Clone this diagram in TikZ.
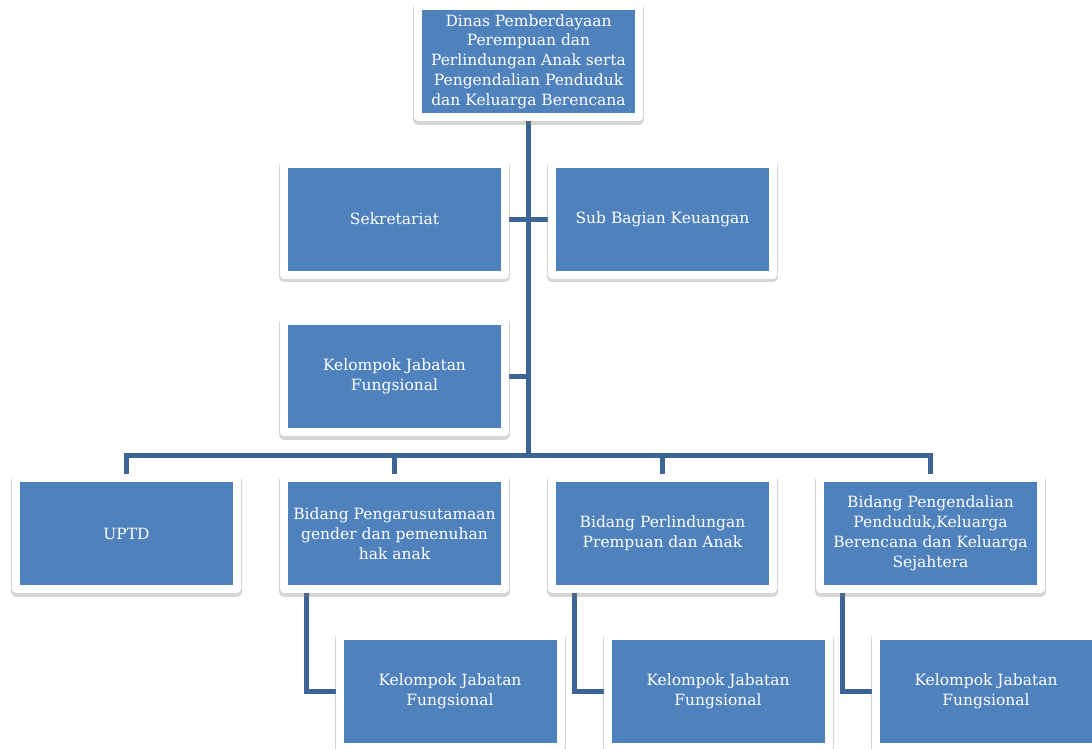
\documentclass[tikz,border=0pt]{standalone}
\usepackage{fontspec}
\setmainfont{DejaVu Serif}
\definecolor{unitblue}{RGB}{79, 129, 189}
\definecolor{linkblue}{RGB}{61, 100, 150}
\usepackage{tikz}
\usetikzlibrary{shadows, backgrounds, positioning, calc}

\begin{document}
\begin{tikzpicture}[x=1pt, y=-1pt,
  unitbox/.style={fill=unitblue, draw=white, line width=8pt, line join=round,
    minimum width=221pt, minimum height=111pt, inner sep=0pt, text=white, align=center,
    font=\fontsize{15.5}{19.8}\selectfont,
    drop shadow={shadow xshift=0pt, shadow yshift=-2.5pt, opacity=0.3,
      fill=black!55, draw=black!55, line width=10pt}},
  link/.style={draw=linkblue, line width=5pt}]
  \useasboundingbox (0,0) rectangle (1092,748);

  % head of the office
  \node[unitbox] (kadis) at (528.5, 61.5) {Dinas Pemberdayaan\\Perempuan dan\\Perlindungan Anak serta\\Pengendalian Penduduk\\dan Keluarga Berencana};

  % staff units
  \node[unitbox] (sekre) at (394.5, 219) {Sekretariat};
  \node[unitbox] (keuangan) at (662.5, 219) {Sub Bagian Keuangan};
  \node[unitbox] (jafung) at (394.5, 376.5) {Kelompok Jabatan\\Fungsional};

  % line units
  \node[unitbox] (uptd) at (126.5, 533.5) {UPTD};
  \node[unitbox] (bidpug) at (394.5, 533.5) {Bidang Pengarusutamaan\\gender dan pemenuhan\\hak anak};
  \node[unitbox] (bidppa) at (662.5, 533.5) {Bidang Perlindungan\\Prempuan dan Anak};
  \node[unitbox] (bidkb) at (930.5, 533.5) {Bidang Pengendalian\\Penduduk,Keluarga\\Berencana dan Keluarga\\Sejahtera};

  % functional groups under each bidang
  \node[unitbox] (jafpug) at (450, 691.5) {Kelompok Jabatan\\Fungsional};
  \node[unitbox] (jafppa) at (718, 691.5) {Kelompok Jabatan\\Fungsional};
  \node[unitbox] (jafkb) at (986, 691.5) {Kelompok Jabatan\\Fungsional};

  \begin{scope}[on background layer]
    \coordinate (bus) at (528.5, 455);
    \draw[link] (kadis.south) -- (bus);
    \draw[link] (sekre.east) -- (keuangan.west);
    \draw[link] (jafung.east) -- (jafung.east -| kadis.south);
    \draw[link] (uptd.north) |- (bus) -| (bidkb.north);
    \draw[link] (bidpug.north) -- (bidpug.north |- bus);
    \draw[link] (bidppa.north) -- (bidppa.north |- bus);
    \draw[link] ([xshift=-88.5pt]bidpug.south) |- (jafpug.west);
    \draw[link] ([xshift=-88.5pt]bidppa.south) |- (jafppa.west);
    \draw[link] ([xshift=-88.5pt]bidkb.south) |- (jafkb.west);
  \end{scope}
\end{tikzpicture}
\end{document}
